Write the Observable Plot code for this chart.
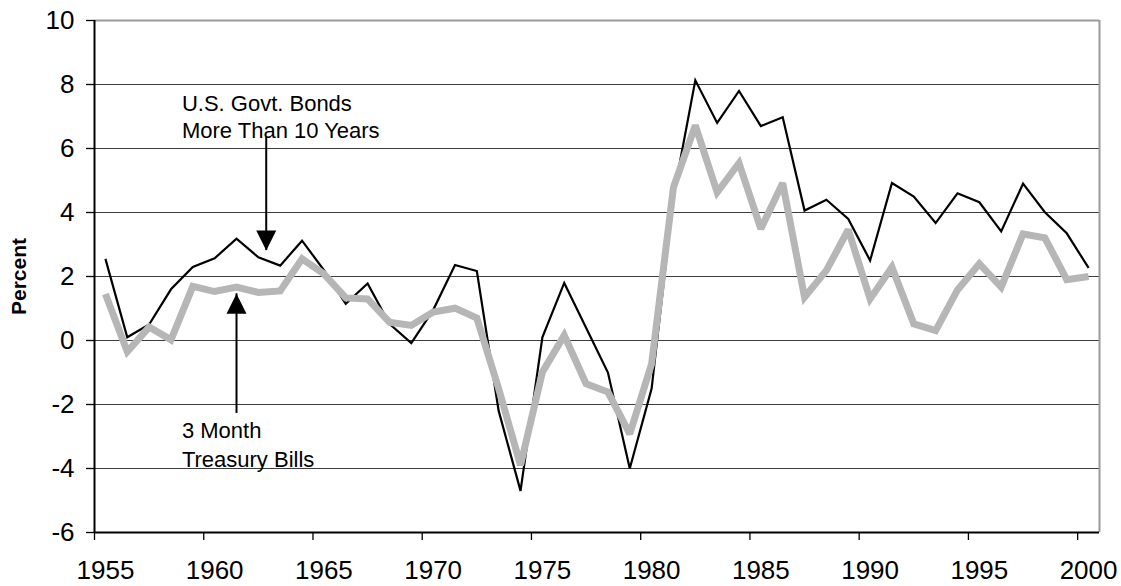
<!DOCTYPE html>
<html><head><meta charset="utf-8">
<script src="https://cdn.jsdelivr.net/npm/d3@7"></script>
<script src="https://cdn.jsdelivr.net/npm/@observablehq/plot@0.6"></script>
<style>html,body{margin:0;padding:0;background:#fff}</style>
</head><body><div id="chart"></div>
<script>
const years = [1955,1956,1957,1958,1959,1960,1961,1962,1963,1964,
  1965,1966,1967,1968,1969,1970,1971,1972,1973,1974,
  1975,1976,1977,1978,1979,1980,1981,1982,1983,1984,
  1985,1986,1987,1988,1989,1990,1991,1992,1993,1994,
  1995,1996,1997,1998,1999,2000];
const bonds = [2.55,0.10,0.50,1.60,2.30,2.57,3.18,2.60,2.34,3.12,
  2.20,1.15,1.78,0.52,-0.08,0.95,2.36,2.17,-2.20,-4.70,
  0.10,1.80,0.40,-1.00,-4.00,-1.50,4.50,8.13,6.80,7.80,
  6.70,6.98,4.06,4.40,3.80,2.50,4.92,4.50,3.67,4.60,
  4.32,3.41,4.90,4.01,3.35,2.27];
const bills = [1.45,-0.35,0.42,0.02,1.69,1.53,1.67,1.50,1.55,2.55,
  2.08,1.33,1.30,0.57,0.47,0.89,1.01,0.70,-1.51,-3.90,
  -0.99,0.16,-1.35,-1.61,-2.92,-0.73,4.79,6.72,4.63,5.54,
  3.49,4.92,1.35,2.19,3.46,1.30,2.29,0.52,0.31,1.58,
  2.40,1.67,3.33,3.21,1.90,2.00];
const yTicks = [-6,-4,-2,0,2,4,6,8,10];
const yTickLabels = ["-6","-4","-2","0","2","4","6","8","10"];
const gridValues = [-4,-2,0,2,4,6,8];
const xTickYears = [1955,1960,1965,1970,1975,1980,1985,1990,1995,2000];
const xTickLabels = ["1955","1960","1965","1970","1975","1980","1985","1990","1995","2000"];
const noteText = ["U.S. Govt. Bonds","More Than 10 Years","3 Month","Treasury Bills"];
const noteX = [1959,1959,1959,1959];
const noteY = [7.38,6.56,-2.82,-3.72];
const arrowX = [1962.86,1961.5];
const arrowFrom = [6.35,-2.28];
const arrowTip = [2.81,1.46];
const arrowDir = [180,0];

const data = years.map((y,i)=>({year:y, mid:y+0.5, bonds:bonds[i], bills:bills[i]}));
const labelTicks = xTickYears.map((y,i)=>({pos:y+0.5, label:xTickLabels[i]}));
const notes = noteText.map((t,i)=>({text:t, x:noteX[i], y:noteY[i]}));
const arrows = arrowX.map((x,i)=>({x, from:arrowFrom[i], tip:arrowTip[i], rot:arrowDir[i]}));
const xLabelMap = new Map(labelTicks.map(d=>[d.pos,d.label]));
const yLabelMap = new Map(yTicks.map((v,i)=>[v,yTickLabels[i]]));

const triangle = {draw(ctx, l){ const w = l/2; ctx.moveTo(0,-l); ctx.lineTo(-w,0); ctx.lineTo(w,0); ctx.closePath(); }};

const chart = Plot.plot({
  width:1121, height:586,
  marginLeft:94, marginRight:22, marginTop:20, marginBottom:54,
  x:{type:"linear", domain:[1955,2001]},
  y:{domain:[-6,10]},
  style:{fontFamily:"'Liberation Sans', Arial, sans-serif", fontSize:"26px", background:"#fff", color:"#000", overflow:"visible"},
  marks:[
    Plot.ruleY(gridValues, {stroke:"#3c3c3c", strokeWidth:1}),
    Plot.ruleY([10], {stroke:"#9a9a9a", strokeWidth:2}),
    Plot.ruleX([2001], {stroke:"#9a9a9a", strokeWidth:2}),
    Plot.line(data, {x:"mid", y:"bonds", stroke:"#000", strokeWidth:2.2, strokeLinejoin:"miter", strokeLinecap:"butt", strokeMiterlimit:4}),
    Plot.line(data, {x:"mid", y:"bills", stroke:"#b6b6b6", strokeWidth:7, strokeLinejoin:"miter", strokeLinecap:"butt", strokeMiterlimit:2.5}),
    Plot.ruleX([1955], {stroke:"#000", strokeWidth:2}),
    Plot.ruleY([-6], {stroke:"#000", strokeWidth:2}),
    Plot.axisY(yTicks, {tickSize:8, tickPadding:12, fontSize:26, strokeWidth:1.3, tickFormat:d=>yLabelMap.get(d), label:null}),
    Plot.axisX(xTickYears, {tickSize:8, tickFormat:()=>"", strokeWidth:1.3, label:null}),
    Plot.axisX(labelTicks.map(d=>d.pos), {tickSize:0, tickPadding:28, fontSize:26, tickFormat:d=>xLabelMap.get(d), label:null}),
    Plot.text(["Percent"], {frameAnchor:"left", dx:-75, rotate:-90, textAnchor:"middle", lineAnchor:"middle", fontWeight:"bold", fontSize:21}),
    Plot.ruleX(arrows, {x:"x", y1:"from", y2:"tip", stroke:"#000", strokeWidth:2}),
    Plot.vector(arrows, {x:"x", y:"tip", rotate:"rot", length:20, anchor:"end", shape:triangle, fill:"#000", stroke:"none"}),
    Plot.text(notes, {x:"x", y:"y", text:"text", textAnchor:"start", lineAnchor:"middle", fontSize:22, fill:"#000"})
  ]
});
document.getElementById("chart").appendChild(chart);
</script>
</body></html>
